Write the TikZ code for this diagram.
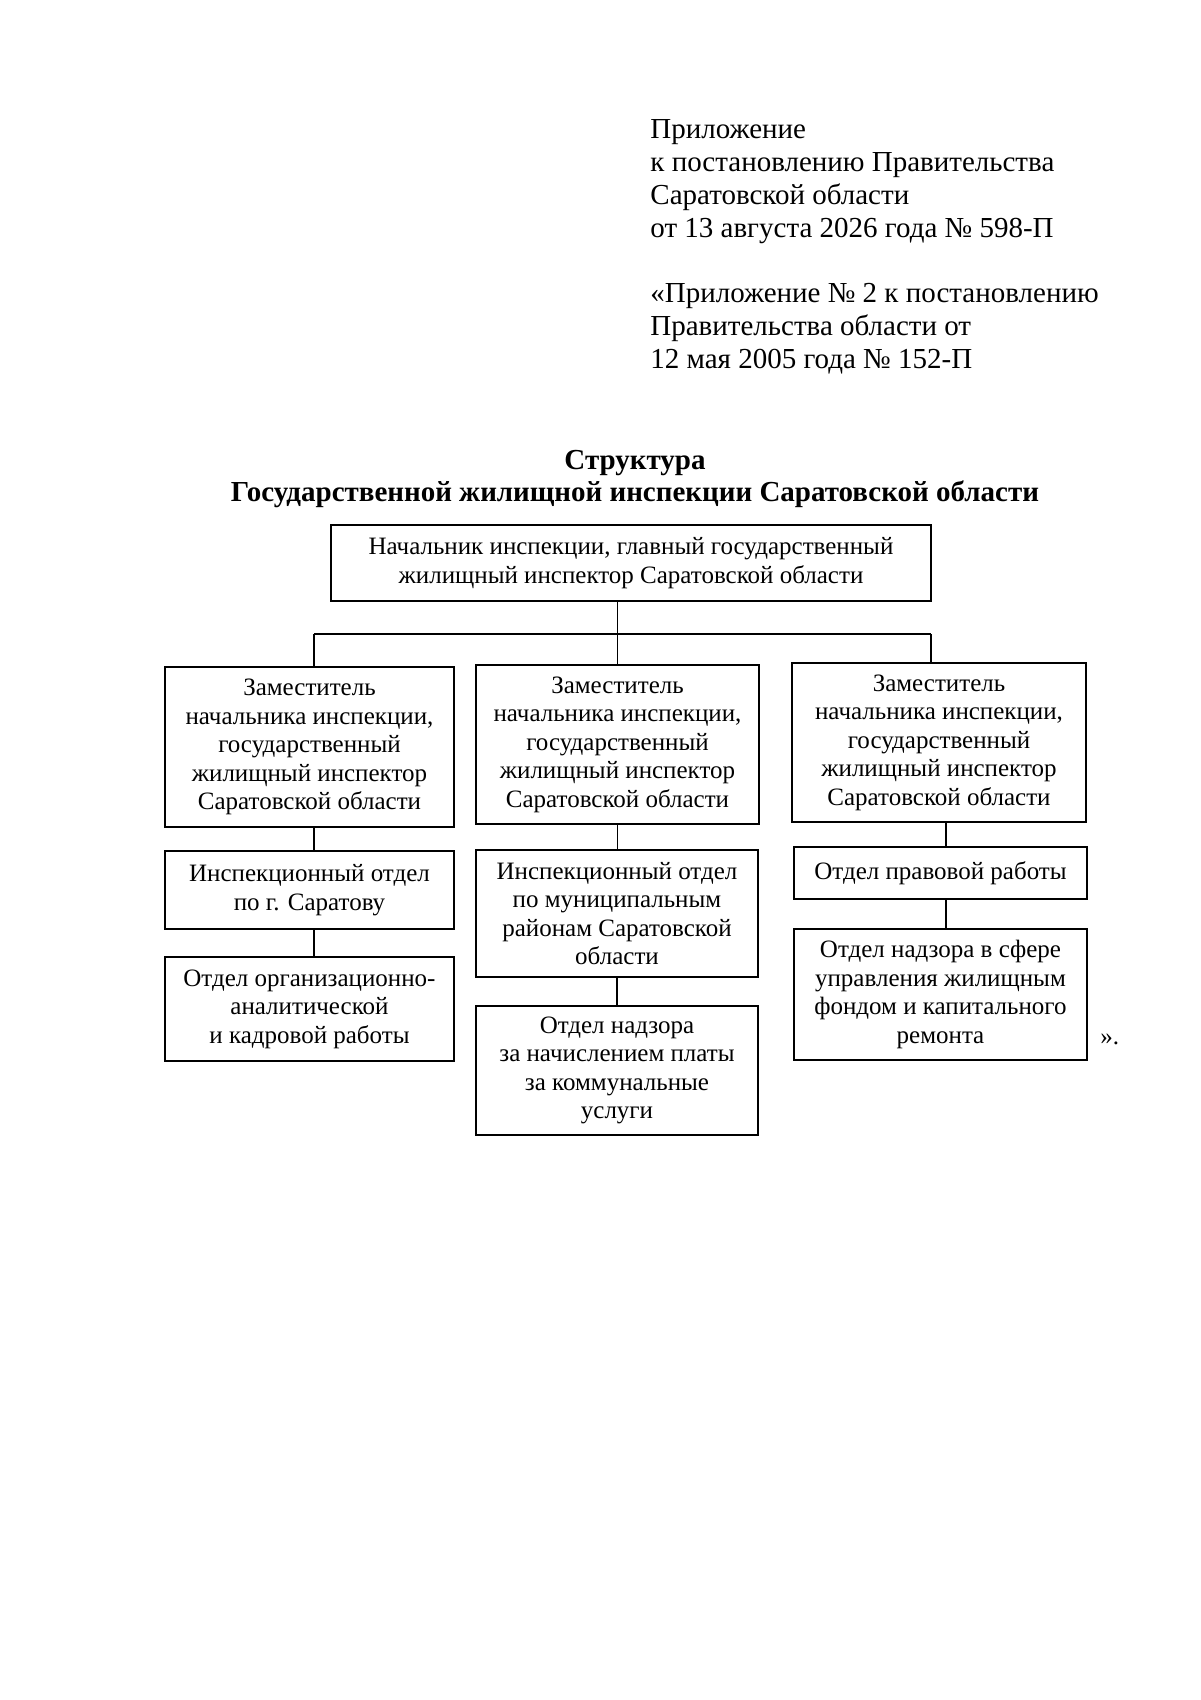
\documentclass[tikz,border=0pt]{standalone}
\usepackage{fontspec}
\setmainfont{Liberation Serif}
\begin{document}
\begin{tikzpicture}[x=0.5pt,y=-0.5pt,
  orgbox/.style={draw, line width=1pt, inner sep=0pt, align=center,
    font=\fontsize{12.5}{14.25}\selectfont},
  topbox/.style={orgbox, font=\fontsize{12.5}{14.5}\selectfont},
  link/.style={line width=0.6pt},
  hdr/.style={anchor=base west, inner sep=0pt, font=\fontsize{14.5}{16.5}\selectfont},
  ttl/.style={anchor=base, inner sep=0pt, font=\fontsize{14.5}{16.5}\selectfont\bfseries}]
\useasboundingbox (0,0) rectangle (1200,1700);
\fill[white] (0,0) rectangle (1200,1700);
% header
\node[hdr] (h1) at (650,139) {Приложение};
\node[hdr] (h2) at (650,172) {к постановлению Правительства};
\node[hdr] (h3) at (650,205) {Саратовской области};
\node[hdr] (h4) at (650,238) {от 13 августа 2026 года № 598-П};
\node[hdr] (h5) at (650,303) {«Приложение № 2 к постановлению};
\node[hdr] (h6) at (650,336) {Правительства области от};
\node[hdr] (h7) at (650,369) {12 мая 2005 года № 152-П};
% title
\node[ttl] (t1) at (635,469) {Структура};
\node[ttl] (t2) at (635,501) {Государственной жилищной инспекции Саратовской области};
% boxes
\node[topbox, minimum width=300pt, minimum height=38pt] (top) at (631,563)
  {Начальник инспекции, главный государственный\\жилищный инспектор Саратовской области};
\node[orgbox, minimum width=144.5pt, minimum height=80pt] (d1) at (309.5,747)
  {Заместитель\\начальника инспекции,\\государственный\\жилищный инспектор\\Саратовской области};
\node[orgbox, minimum width=141.5pt, minimum height=79.5pt] (d2) at (617.5,744.5)
  {Заместитель\\начальника инспекции,\\государственный\\жилищный инспектор\\Саратовской области};
\node[orgbox, minimum width=147pt, minimum height=79.5pt] (d3) at (939,742.5)
  {Заместитель\\начальника инспекции,\\государственный\\жилищный инспектор\\Саратовской области};
\node[orgbox, minimum width=144.5pt, minimum height=39pt] (l2) at (309.5,890)
  {Инспекционный отдел\\по г. Саратову};
\node[orgbox, minimum width=144.5pt, minimum height=52pt] (l3) at (309.5,1009)
  {Отдел организационно-\\аналитической\\и кадровой работы};
\node[orgbox, minimum width=141pt, minimum height=63.5pt] (m2) at (617,913.5)
  {Инспекционный отдел\\по муниципальным\\районам Саратовской\\области};
\node[orgbox, minimum width=141pt, minimum height=64.5pt] (m3) at (617,1070.5)
  {Отдел надзора\\за начислением платы\\за коммунальные\\услуги};
\node[orgbox, minimum width=146.5pt, minimum height=26pt] (r2) at (940.5,873)
  {Отдел правовой работы};
\node[orgbox, minimum width=146.5pt, minimum height=65.5pt] (r3) at (940.5,994.5)
  {Отдел надзора в сфере\\управления жилищным\\фондом и капитального\\ремонта};
\node[anchor=base west, inner sep=0pt, font=\fontsize{12.5}{14.25}\selectfont] (q) at (1100,1044) {».};
% connectors
\coordinate (barL) at (314,634);
\coordinate (barR) at (931,634);
\coordinate (rx) at (946,0);
\draw[link] (top.south -| d2.north) -- (d2.north);
\draw[link] (barL) -- (barR);
\draw[link] (barL) -- (barL |- d1.north);
\draw[link] (barR) -- (barR |- d3.north);
\draw[link] (d1.south -| barL) -- (l2.north -| barL);
\draw[link] (l2.south -| barL) -- (l3.north -| barL);
\draw[link] (d2.south) -- (m2.north -| d2.south);
\draw[link] (m2.south) -- (m3.north -| m2.south);
\draw[link] (d3.south -| rx) -- (r2.north -| rx);
\draw[link] (r2.south -| rx) -- (r3.north -| rx);
\end{tikzpicture}
\end{document}
